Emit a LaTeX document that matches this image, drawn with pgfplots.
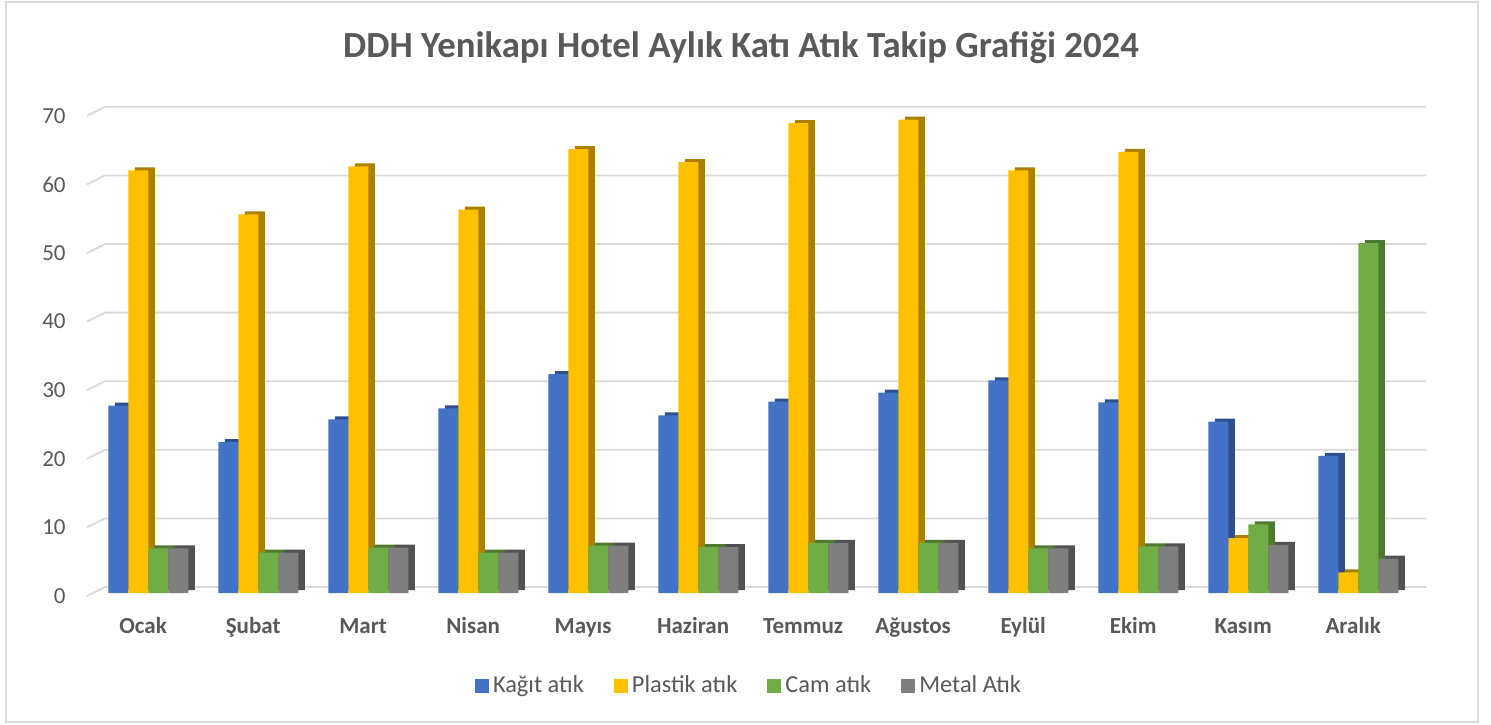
\documentclass[border=0pt]{standalone}
\usepackage{fontspec}
\setmainfont{Carlito}
\usepackage{pgfplots}
\usepackage{pgfplotstable}
\pgfplotsset{compat=1.18}

\definecolor{txtgray}{HTML}{595959}
\definecolor{gridcol}{HTML}{D9D9D9}
\definecolor{kagit}{HTML}{4472C4}
\definecolor{kagitD}{HTML}{2F4F8F}
\definecolor{plastik}{HTML}{FFC000}
\definecolor{plastikD}{HTML}{AA8000}
\definecolor{cam}{HTML}{70AD47}
\definecolor{camD}{HTML}{4D7A2E}
\definecolor{metal}{HTML}{7F7F7F}
\definecolor{metalD}{HTML}{525252}

% aylik atik miktarlari
\pgfplotstableread{
idx kagit plastik cam metal
0  27.3 61.6  6.5 6.5
1  22.0 55.2  5.9 5.9
2  25.3 62.2  6.6 6.6
3  26.9 55.9  5.9 5.9
4  31.9 64.7  6.9 6.9
5  25.9 62.8  6.7 6.7
6  27.9 68.5  7.3 7.3
7  29.2 69.0  7.3 7.3
8  31.0 61.6  6.5 6.5
9  27.8 64.3  6.8 6.8
10 25.0  8.0 10.0 7.0
11 20.0  3.0 51.0 5.0
}\atik

\begin{document}
\begin{tikzpicture}
\useasboundingbox (0,0) rectangle (745.5pt,362pt);
\draw[gridcol, line width=0.7pt] (3pt,1pt) rectangle (739pt,361pt);
\node[font=\fontsize{18.4}{22}\selectfont\bfseries, text=txtgray]
  at (370.5pt,338pt) {DDH Yenikapı Hotel Aylık Katı Atık Takip Grafiği 2024};

\begin{axis}[
    at={(45pt,65.5pt)}, anchor=south west,
    scale only axis,
    width=668pt, height=240.1pt,
    xmin=-0.53, xmax=11.615,
    ymin=0, ymax=70,
    clip=false,
    axis line style={draw=none},
    major tick length=0pt,
    ytick={0,10,...,70},
    xtick={0,...,11},
    xticklabels={Ocak,Şubat,Mart,Nisan,Mayıs,Haziran,Temmuz,Ağustos,Eylül,Ekim,Kasım,Aralık},
    /pgf/number format/assume math mode=true,
    yticklabel style={font=\fontsize{11.5}{13}\selectfont, text=txtgray,
        anchor=east, inner sep=0pt, xshift=-12pt, yshift=-1.5pt},
    xticklabel style={font=\fontsize{11.5}{13}\selectfont\bfseries, text=txtgray,
        anchor=base, inner sep=0pt, yshift=-20.25pt, xshift=-2.6pt},
    ybar=0pt,
    bar width=0.1818,
    legend columns=4,
    legend image code/.code={\fill[#1] (0pt,-3.5pt) rectangle (7pt,3.5pt);},
    legend style={at={(0.494,-0.1937)}, anchor=center, draw=none,
        font=\fontsize{12.2}{14}\selectfont, text=txtgray,
        /tikz/every even column/.append style={column sep=13pt}},
]

% izgara cizgileri (arka duvar + sol basamak)
\pgfplotsinvokeforeach{0,10,...,70}{
  \draw[gridcol, line width=0.9pt]
    ([xshift=-1.5pt,yshift=-1.5pt]axis cs:-0.53,#1) --
    ([xshift=7.5pt,yshift=3pt]axis cs:-0.53,#1) --
    ([yshift=3pt]axis cs:11.615,#1);
}

% Kagit
\addplot[fill=kagitD, draw=none, bar shift=-0.2727, xshift=3.3pt, yshift=1.5pt, forget plot]
  table[x=idx, y=kagit] {\atik};
\addplot[fill=kagit, draw=none, bar shift=-0.2727]
  table[x=idx, y=kagit] {\atik};
\addlegendentry{Kağıt atık}
% Plastik
\addplot[fill=plastikD, draw=none, bar shift=-0.0909, xshift=3.3pt, yshift=1.5pt, forget plot]
  table[x=idx, y=plastik] {\atik};
\addplot[fill=plastik, draw=none, bar shift=-0.0909]
  table[x=idx, y=plastik] {\atik};
\addlegendentry{Plastik atık}
% Cam
\addplot[fill=camD, draw=none, bar shift=0.0909, xshift=3.3pt, yshift=1.5pt, forget plot]
  table[x=idx, y=cam] {\atik};
\addplot[fill=cam, draw=none, bar shift=0.0909]
  table[x=idx, y=cam] {\atik};
\addlegendentry{Cam atık}
% Metal
\addplot[fill=metalD, draw=none, bar shift=0.2727, xshift=3.3pt, yshift=1.5pt, forget plot]
  table[x=idx, y=metal] {\atik};
\addplot[fill=metal, draw=none, bar shift=0.2727]
  table[x=idx, y=metal] {\atik};
\addlegendentry{Metal Atık}

\end{axis}
\end{tikzpicture}
\end{document}
